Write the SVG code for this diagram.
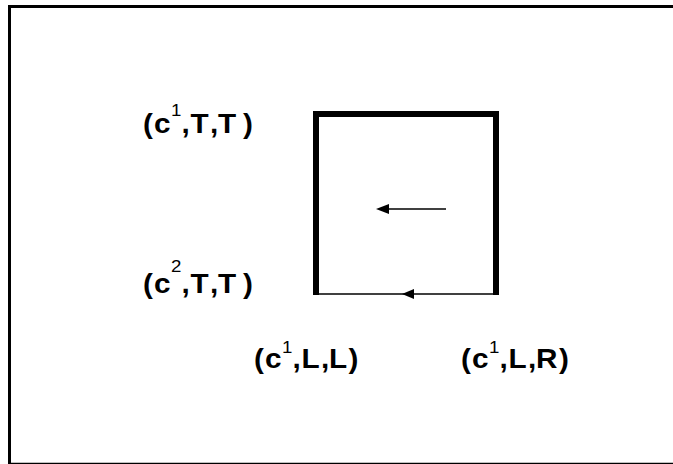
<svg xmlns="http://www.w3.org/2000/svg" width="673" height="464" viewBox="0 0 673 464">
<style>
.lbl{font-family:"Liberation Sans",Arial,sans-serif;font-size:27px;font-weight:bold;fill:#000}
.sup{font-size:17px;font-weight:normal}
.frame{stroke:#000;fill:none}
.thick{stroke:#000;stroke-width:6;fill:none;stroke-linejoin:miter}
.thin{stroke:#000;stroke-width:1.5;fill:none}
</style>
<rect x="0" y="0" width="673" height="464" fill="#fff"/>
<g id="frame">
<line class="frame" x1="8" y1="6.5" x2="673" y2="6.5" stroke-width="3"/>
<line class="frame" x1="9.5" y1="5" x2="9.5" y2="464" stroke-width="3"/>
<line class="frame" x1="9" y1="463.5" x2="673" y2="463.5" stroke-width="1.5"/>
</g>
<g id="cell">
<polyline class="thick" points="316,295 316,114 496,114 496,295"/>
</g>
<g id="connectors">
<line class="thin" x1="316" y1="294" x2="496" y2="294"/>
<polygon points="402,294 414,289 414,299" fill="#000"/>
<line class="thin" x1="388" y1="209" x2="446" y2="209" stroke-width="1.2"/>
<polygon points="376,209 389,204 389,214" fill="#000"/>
</g>
<g id="label-c1TT">
<text class="lbl" transform="translate(143,133) scale(1.1,1)"><tspan x="0">(</tspan><tspan x="10">c</tspan><tspan class="sup" x="25.45" dy="-17">1</tspan><tspan x="35" dy="17">,</tspan><tspan x="43.2">T</tspan><tspan x="60.9">,</tspan><tspan x="68.2">T</tspan><tspan x="90.9">)</tspan></text>
</g>
<g id="label-c2TT">
<text class="lbl" transform="translate(143,293) scale(1.1,1)"><tspan x="0">(</tspan><tspan x="10">c</tspan><tspan class="sup" x="25.45" dy="-21">2</tspan><tspan x="35" dy="21">,</tspan><tspan x="43.2">T</tspan><tspan x="60.9">,</tspan><tspan x="68.2">T</tspan><tspan x="90.9">)</tspan></text>
</g>
<g id="label-c1LL">
<text class="lbl" transform="translate(254,368) scale(1.1,1)"><tspan x="0">(</tspan><tspan x="10">c</tspan><tspan class="sup" x="25.45" dy="-15">1</tspan><tspan x="35" dy="15">,</tspan><tspan x="43.2">L</tspan><tspan x="60.9">,</tspan><tspan x="68.2">L</tspan><tspan x="86">)</tspan></text>
</g>
<g id="label-c1LR">
<text class="lbl" transform="translate(461,368) scale(1.1,1)"><tspan x="0">(</tspan><tspan x="10">c</tspan><tspan class="sup" x="25.45" dy="-15">1</tspan><tspan x="35" dy="15">,</tspan><tspan x="43.2">L</tspan><tspan x="60.9">,</tspan><tspan x="68.2">R</tspan><tspan x="89">)</tspan></text>
</g>
</svg>
